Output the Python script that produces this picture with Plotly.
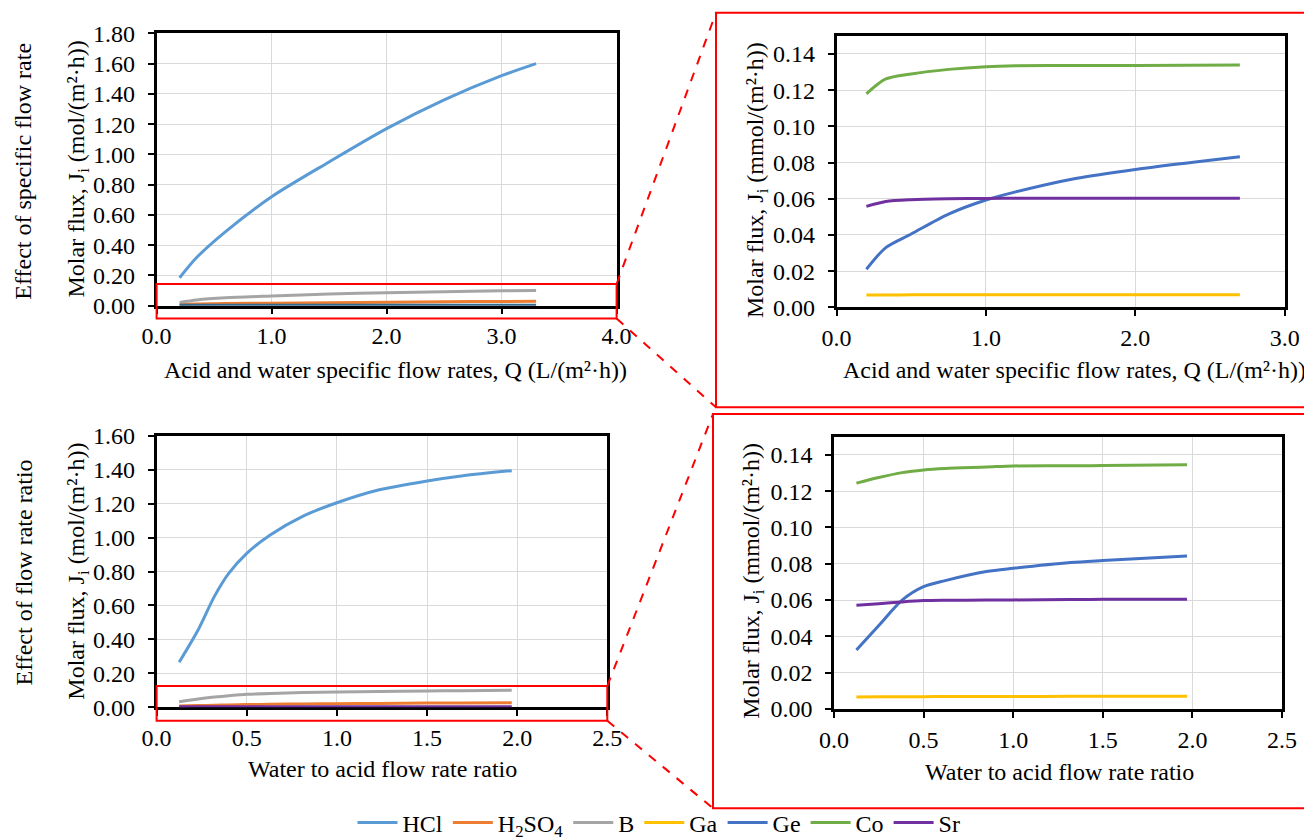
import plotly.graph_objects as go

# ---------------- data ----------------
series_names = ["HCl", "H<sub>2</sub>SO<sub>4</sub>", "B", "Ga", "Ge", "Co", "Sr"]
series_colors = ["#5B9BD5", "#ED7D31", "#A5A5A5", "#FFC000", "#4472C4", "#70AD47", "#7030A0"]

# Effect of specific flow rate (mol/(m2 h))
Q_main = [0.2, 0.35, 0.6, 1.0, 1.5, 2.0, 2.5, 3.0, 3.3]
HCl_Q = [0.185, 0.32, 0.49, 0.72, 0.95, 1.17, 1.36, 1.52, 1.60]
H2SO4_Q = [0.008, 0.011, 0.014, 0.017, 0.020, 0.023, 0.026, 0.028, 0.029]
B_Q = [0.022, 0.038, 0.052, 0.064, 0.077, 0.086, 0.093, 0.098, 0.101]
metals_Q_mol = [0.0, 0.0, 0.0, 0.0, 0.0, 0.0, 0.0, 0.0, 0.0]

# Effect of specific flow rate, zoom (mmol/(m2 h))
Q_inset = [0.2, 0.33, 0.5, 0.75, 1.0, 1.2, 1.6, 2.0, 2.7]
Ga_Q = [0.0068, 0.0068, 0.0069, 0.0069, 0.0069, 0.0069, 0.0069, 0.0069, 0.0069]
Ge_Q = [0.021, 0.033, 0.0405, 0.0515, 0.0593, 0.0638, 0.0712, 0.0762, 0.0832]
Co_Q = [0.1180, 0.1262, 0.1290, 0.1315, 0.1330, 0.1335, 0.1336, 0.1337, 0.1339]
Sr_Q = [0.0558, 0.0585, 0.0595, 0.0600, 0.0602, 0.0603, 0.0603, 0.0603, 0.0603]

# Effect of flow rate ratio (mol/(m2 h))
R_main = [0.125, 0.23, 0.32, 0.40, 0.50, 0.63, 0.81, 1.0, 1.23, 1.5, 1.7, 1.97]
HCl_R = [0.265, 0.455, 0.652, 0.789, 0.907, 1.015, 1.125, 1.205, 1.280, 1.333, 1.364, 1.394]
H2SO4_R = [0.008, 0.010, 0.012, 0.014, 0.016, 0.018, 0.020, 0.021, 0.023, 0.025, 0.026, 0.027]
B_R = [0.033, 0.049, 0.060, 0.068, 0.0765, 0.082, 0.087, 0.090, 0.093, 0.096, 0.098, 0.100]
metals_R_mol = [0.0, 0.0, 0.0, 0.0, 0.0, 0.0, 0.0, 0.0, 0.0, 0.0, 0.0, 0.0]

# Effect of flow rate ratio, zoom (mmol/(m2 h))
R_inset = [0.125, 0.25, 0.38, 0.5, 0.62, 0.85, 1.0, 1.32, 1.5, 1.97]
Ga_R = [0.0066, 0.0067, 0.0068, 0.0068, 0.0069, 0.0069, 0.0069, 0.0070, 0.0070, 0.0070]
Ge_R = [0.0325, 0.046, 0.060, 0.0674, 0.0707, 0.0757, 0.0775, 0.0807, 0.0818, 0.0843]
Co_R = [0.1244, 0.1275, 0.1302, 0.1317, 0.1325, 0.1333, 0.1339, 0.1340, 0.1341, 0.1345]
Sr_R = [0.0571, 0.0580, 0.0590, 0.0597, 0.0599, 0.0600, 0.0601, 0.0603, 0.0604, 0.0604]

x_titles = ["Acid and water specific flow rates, Q (L/(m²·h))", "Water to acid flow rate ratio"]
y_title_mol = "Molar flux, J<sub>i</sub> (mol/(m²·h))"
y_title_mmol = "Molar flux, J<sub>i</sub> (mmol/(m²·h))"
row_titles = ["Effect of specific flow rate", "Effect of flow rate ratio"]

# ---------------- layout helpers ----------------
OX, OY = 8, 8            # page body margin
W, H = 1304, 832
FONT = "Liberation Serif, Times New Roman, serif"
FS = 24

def px(x):
    return (x - OX) / W

def py(y):
    return 1 - (y - OY) / H

fig = go.Figure()

def line(x, y, name, color, xa, ya, show, group, width=3):
    fig.add_trace(go.Scatter(
        x=x, y=y, name=name, mode="lines",
        line=dict(color=color, width=width, shape="spline", smoothing=0.8),
        xaxis=xa, yaxis=ya, showlegend=show, legendgroup=group,
        hoverinfo="skip"))

keys = ["HCl", "H2SO4", "B", "Ga", "Ge", "Co", "Sr"]
c = dict(zip(keys, series_colors))
n = dict(zip(keys, series_names))

# Panel 1 (legend entries for HCl, H2SO4, B)
line(Q_main, HCl_Q, n["HCl"], c["HCl"], "x", "y", True, "HCl")
line(Q_main, H2SO4_Q, n["H2SO4"], c["H2SO4"], "x", "y", True, "H2SO4")
line(Q_main, B_Q, n["B"], c["B"], "x", "y", True, "B")
# Panel 2 (legend entries for metals)
line(Q_inset, Ga_Q, n["Ga"], c["Ga"], "x2", "y2", True, "Ga")
line(Q_inset, Ge_Q, n["Ge"], c["Ge"], "x2", "y2", True, "Ge")
line(Q_inset, Co_Q, n["Co"], c["Co"], "x2", "y2", True, "Co")
line(Q_inset, Sr_Q, n["Sr"], c["Sr"], "x2", "y2", True, "Sr")
# metals at ~0 in panel 1
line(Q_main, metals_Q_mol, "metals", "#31688F", "x", "y", False, "Ge", width=4)
# Panel 3
line(R_main, HCl_R, n["HCl"], c["HCl"], "x3", "y3", False, "HCl")
line(R_main, B_R, n["B"], c["B"], "x3", "y3", False, "B")
line(R_main, H2SO4_R, n["H2SO4"], c["H2SO4"], "x3", "y3", False, "H2SO4")
line(R_main, metals_R_mol, n["Sr"], c["Sr"], "x3", "y3", False, "Sr", width=4)
# Panel 4
line(R_inset, Ga_R, n["Ga"], c["Ga"], "x4", "y4", False, "Ga")
line(R_inset, Ge_R, n["Ge"], c["Ge"], "x4", "y4", False, "Ge")
line(R_inset, Co_R, n["Co"], c["Co"], "x4", "y4", False, "Co")
line(R_inset, Sr_R, n["Sr"], c["Sr"], "x4", "y4", False, "Sr")

def xaxis(dom, rng, dtick, anchor):
    return dict(domain=[px(dom[0]), px(dom[1])], range=rng, dtick=dtick, tick0=0,
                tickformat=".1f", anchor=anchor, showline=True, mirror=True,
                linecolor="black", linewidth=2.5, ticks="outside", ticklen=6,
                tickwidth=2, tickcolor="black", showgrid=True, gridcolor="#D9D9D9",
                gridwidth=1, zeroline=False, layer="below traces",
                ticklabelstandoff=1, automargin=False,
                tickfont=dict(family=FONT, size=FS, color="black"))

def yaxis(dom, rng, dtick, anchor):
    return dict(domain=[py(dom[1]), py(dom[0])], range=rng, dtick=dtick, tick0=0,
                tickformat=".2f", anchor=anchor, showline=True, mirror=True,
                linecolor="black", linewidth=2.5, ticks="outside", ticklen=6,
                tickwidth=2, tickcolor="black", showgrid=True, gridcolor="#D9D9D9",
                gridwidth=1, zeroline=False, layer="below traces",
                ticklabelstandoff=8, automargin=False,
                tickfont=dict(family=FONT, size=FS, color="black"))

fig.update_layout(
    width=W, height=H, margin=dict(l=0, r=0, t=0, b=0, pad=0, autoexpand=False),
    paper_bgcolor="white", plot_bgcolor="white",
    font=dict(family=FONT, size=FS, color="black"),
    xaxis=xaxis((156.6, 616.6), [0, 4], 1, "y"),
    yaxis=yaxis((33.3, 305.7), [0, 1.8], 0.2, "x"),
    xaxis2=xaxis((836.5, 1284.7), [0, 3], 1, "y2"),
    yaxis2=yaxis((35.9, 307.3), [0, 0.15], 0.02, "x2"),
    xaxis3=xaxis((156.6, 607.3), [0, 2.5], 0.5, "y3"),
    yaxis3=yaxis((435.7, 707.3), [0, 1.6], 0.2, "x3"),
    xaxis4=xaxis((834, 1282), [0, 2.5], 0.5, "y4"),
    yaxis4=yaxis((436.7, 709), [0, 0.15], 0.02, "x4"),
    legend=dict(orientation="h", x=px(659), xanchor="center", y=py(823), yanchor="middle",
                font=dict(family=FONT, size=FS, color="black"), itemwidth=40,
                bgcolor="rgba(0,0,0,0)", traceorder="normal"),
)

# ---------------- titles (annotations) ----------------
ann = []
def text(x, y, t, angle=0):
    ann.append(dict(x=px(x), y=py(y), xref="paper", yref="paper", text=t,
                    showarrow=False, textangle=angle, xanchor="center", yanchor="middle",
                    font=dict(family=FONT, size=FS, color="black")))

text(395.7, 370, x_titles[0])
text(1074, 370, x_titles[0])
text(382.6, 769, x_titles[1])
text(1059.5, 771.7, x_titles[1])
text(78, 169.5, y_title_mol, -90)
text(757, 180, y_title_mmol, -90)
text(78, 571.7, y_title_mol, -90)
text(753, 580.8, y_title_mmol, -90)
text(23, 171.7, row_titles[0], -90)
text(23, 572.5, row_titles[1], -90)
fig.update_layout(annotations=ann)

# ---------------- red zoom boxes & connectors ----------------
shapes = []
def rect(x0, y0, x1, y1):
    shapes.append(dict(type="rect", xref="paper", yref="paper",
                       x0=px(x0), x1=px(x1), y0=py(y1), y1=py(y0),
                       line=dict(color="#FF0000", width=2), fillcolor="rgba(0,0,0,0)",
                       layer="above"))

def dline(x0, y0, x1, y1):
    shapes.append(dict(type="line", xref="paper", yref="paper",
                       x0=px(x0), x1=px(x1), y0=py(y0), y1=py(y1),
                       line=dict(color="#FF0000", width=2, dash="dash"), layer="above"))

rect(156.6, 284, 616.6, 318.5)
rect(156.6, 686, 607.3, 720.7)
rect(716, 12.7, 1340, 407.3)
rect(713, 414, 1340, 808.3)
dline(616.6, 284, 716, 12.7)
dline(616.6, 318.5, 716, 407.3)
dline(607.3, 686, 713, 414)
dline(607.3, 720.7, 713, 808.3)
fig.update_layout(shapes=shapes)

fig.write_html("out.html")
